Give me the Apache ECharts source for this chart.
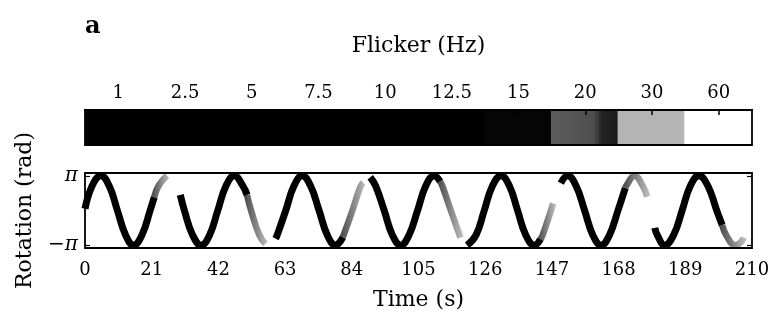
<!DOCTYPE html>
<html>
<head>
<meta charset="utf-8">
<script src="https://cdn.jsdelivr.net/npm/echarts@6/dist/echarts.min.js"></script>
<style>
  html, body { margin: 0; padding: 0; background: #fff; }
  #chart { width: 773px; height: 323px; }
</style>
</head>
<body>
<div id="chart"></div>
<script>
// Flicker frequency of each 21-s block of the stimulus
const flickerHz = ['1', '2.5', '5', '7.5', '10', '12.5', '15', '20', '30', '60'];
// Each block fills the full height of the band
const bandFill = [1, 1, 1, 1, 1, 1, 1, 1, 1, 1];

// Rotation traces, [time (s), rotation in units of π].
// Each trial: the tracked part (black) and the fading part (grey).
const trial1Black = [[0, 0.05], [2.3, 0.72], [5.0, 1], [7.6, 0.71], [10.2, 0], [12.8, -0.71], [15.3, -1], [17.9, -0.71], [20.5, 0], [21.8, 0.38]];
const trial1Grey  = [[21.8, 0.38], [23.2, 0.72], [25.8, 1]];

const trial2Black = [[30.0, 0.45], [31.3, 0], [33.9, -0.71], [36.6, -1], [39.2, -0.71], [41.8, 0], [44.4, 0.71], [47.0, 1], [49.7, 0.71], [51.0, 0.45]];
const trial2Grey  = [[51.0, 0.45], [52.3, 0], [54.9, -0.71], [56.8, -0.96]];

const trial3Black = [[60.0, -0.81], [60.5, -0.71], [63.2, 0], [65.8, 0.71], [68.4, 1], [71.0, 0.71], [73.7, 0], [76.3, -0.71], [78.9, -1], [81.2, -0.77]];
const trial3Grey  = [[81.2, -0.77], [84.2, 0], [86.8, 0.71], [87.6, 0.8]];

const trial4Black = [[89.8, 0.96], [91.5, 0.71], [94.2, 0], [96.8, -0.71], [99.4, -1], [102.0, -0.71], [104.7, 0], [107.3, 0.71], [109.9, 1], [111.8, 0.84]];
const trial4Grey  = [[111.8, 0.84], [112.5, 0.71], [115.2, 0], [118.2, -0.78]];

const trial5Black = [[120.3, -1], [123.1, -0.71], [125.7, 0], [128.3, 0.71], [131.0, 1], [133.6, 0.71], [136.2, 0], [138.8, -0.71], [141.5, -1], [143.4, -0.83]];
const trial5Grey  = [[143.4, -0.83], [144.1, -0.71], [146.7, 0], [147.4, 0.2]];

const trial6Black = [[149.8, 0.79], [152.0, 1], [154.6, 0.71], [157.3, 0], [159.9, -0.71], [162.5, -1], [165.1, -0.71], [167.8, 0], [170.1, 0.65]];
const trial6Grey  = [[170.1, 0.65], [170.4, 0.71], [173.0, 1], [175.6, 0.71], [177.0, 0.4]];

const trial7Black = [[179.4, -0.5], [180.2, -0.71], [182.5, -1], [185.3, -0.71], [188.0, 0], [190.6, 0.71], [193.3, 1], [196.1, 0.71], [198.9, 0], [200.6, -0.42]];
const trial7Grey  = [[200.6, -0.42], [201.9, -0.71], [204.7, -1], [206.6, -0.9], [207.4, -0.78]];

const blackRuns = [trial1Black, trial2Black, trial3Black, trial4Black, trial5Black, trial6Black, trial7Black];
const greyRuns  = [trial1Grey, trial2Grey, trial3Grey, trial4Grey, trial5Grey, trial6Grey, trial7Grey];

// Shade of each flicker block in the band
const bandShades = [
  '#000', '#000', '#000', '#000', '#000', '#000', '#050505',
  new echarts.graphic.LinearGradient(0, 0, 1, 0, [
    { offset: 0, color: '#5c5c5c' },
    { offset: 0.62, color: '#4e4e4e' },
    { offset: 0.75, color: '#222' },
    { offset: 1, color: '#1a1a1a' }
  ]),
  '#b4b4b4',
  '#ffffff'
];

const SERIF = '"DejaVu Serif", "Liberation Serif", serif';
const chart = echarts.init(document.getElementById('chart'), null, { renderer: 'canvas' });

const fadeGrey = () => new echarts.graphic.LinearGradient(0, 0, 1, 0, [
  { offset: 0, color: '#444' },
  { offset: 1, color: '#c4c4c4' }
]);

const traceSeries = [];
blackRuns.forEach((run) => {
  traceSeries.push({
    type: 'line', xAxisIndex: 1, yAxisIndex: 1, data: run,
    smooth: 0.45, showSymbol: false, clip: false, z: 3,
    lineStyle: { color: '#000', width: 7, cap: 'butt', join: 'round' }
  });
});
greyRuns.forEach((run) => {
  traceSeries.push({
    type: 'line', xAxisIndex: 1, yAxisIndex: 1, data: run,
    smooth: 0.45, showSymbol: false, clip: false, z: 2,
    lineStyle: { color: fadeGrey(), width: 6.5, cap: 'butt', join: 'round' }
  });
});

chart.setOption({
  animation: false,
  backgroundColor: '#fff',
  title: {
    text: 'a', left: 80, top: 10,
    textStyle: { fontFamily: SERIF, fontWeight: 'bold', fontSize: 24, color: '#000' }
  },
  grid: [
    { left: 85, right: 21, top: 110, height: 35, show: true, borderColor: '#000', borderWidth: 1.8, z: 4 },
    { left: 85, right: 21, top: 173, height: 75, show: true, borderColor: '#000', borderWidth: 1.8, z: 4 }
  ],
  xAxis: [
    {
      type: 'category', gridIndex: 0, position: 'top', data: flickerHz, z: 6,
      axisLine: { show: true, onZero: false, lineStyle: { color: '#000', width: 1.8 } },
      axisTick: { show: true, inside: false, length: -5, alignWithLabel: true, lineStyle: { color: '#000', width: 1.5 } },
      axisLabel: { color: '#000', fontFamily: SERIF, fontSize: 18, margin: 8 },
      name: 'Flicker (Hz)', nameLocation: 'middle', nameGap: 53,
      nameTextStyle: { color: '#000', fontFamily: SERIF, fontSize: 22 }
    },
    {
      type: 'value', gridIndex: 1, min: 0, max: 210, interval: 21,
      axisLine: { show: false, onZero: false }, axisTick: { show: false }, splitLine: { show: false },
      axisLabel: { color: '#000', fontFamily: SERIF, fontSize: 18, margin: 13 },
      name: 'Time (s)', nameLocation: 'middle', nameGap: 41,
      nameTextStyle: { color: '#000', fontFamily: SERIF, fontSize: 22 }
    }
  ],
  yAxis: [
    { type: 'value', gridIndex: 0, min: 0, max: 1, show: false },
    {
      type: 'value', gridIndex: 1, min: -1.08, max: 1.08, position: 'left', z: 6,
      axisLine: { show: false, onZero: false }, splitLine: { show: false },
      axisTick: { show: true, inside: true, length: 5, customValues: [-1, 1], lineStyle: { color: '#000', width: 1.2 } },
      axisLabel: {
        customValues: [-1, 1], margin: 7, color: '#000', fontFamily: SERIF, fontSize: 20, fontStyle: 'italic',
        formatter: (v) => (v > 0 ? 'π' : '−π')
      },
      name: 'Rotation (rad)', nameLocation: 'middle', nameGap: 49,
      nameTextStyle: { color: '#000', fontFamily: SERIF, fontSize: 22 }
    },
    {
      type: 'value', gridIndex: 1, min: -1.08, max: 1.08, position: 'right', z: 6,
      axisLine: { show: false, onZero: false }, splitLine: { show: false }, axisLabel: { show: false },
      axisTick: { show: true, inside: true, length: 5, customValues: [-1, 1], lineStyle: { color: '#000', width: 1.2 } }
    }
  ],
  series: [
    {
      type: 'bar', xAxisIndex: 0, yAxisIndex: 0, barCategoryGap: 0, barWidth: '103%', z: 2,
      data: bandFill.map((v, i) => ({
        value: v,
        itemStyle: { color: bandShades[i] }
      }))
    },
    ...traceSeries
  ]
});
</script>
</body>
</html>
